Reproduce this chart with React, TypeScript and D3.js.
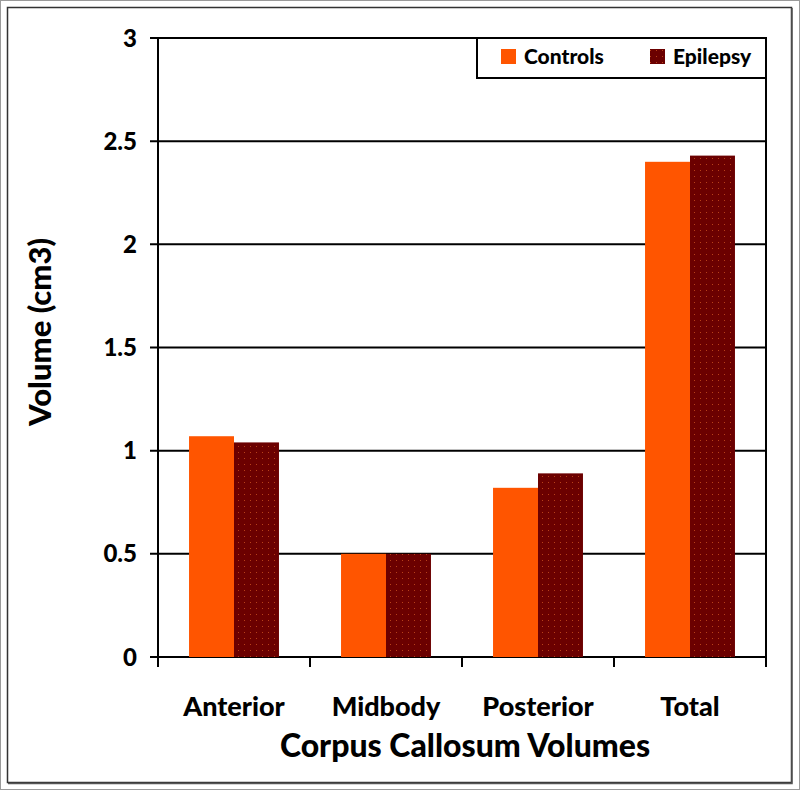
import React, { useEffect, useRef } from "react";
import * as d3 from "d3";

const categories = ["Anterior", "Midbody", "Posterior", "Total"];
const seriesNames = ["Controls", "Epilepsy"];
const controls = [1.07, 0.5, 0.82, 2.4];
const epilepsy = [1.04, 0.5, 0.89, 2.43];
const yTicks = [0, 0.5, 1, 1.5, 2, 2.5, 3];

const font = "Lato, 'Open Sans', sans-serif";

const App = () => {
  const chart = useRef<SVGSVGElement>(null);

  useEffect(() => {
    const width = 800;
    const height = 790;
    const margin = { top: 38, right: 34, bottom: 133, left: 158 };

    const svg = d3.select(chart.current)
      .attr("width", width)
      .attr("height", height);
    svg.selectAll("*").remove();

    // dotted fill for the epilepsy bars
    const defs = svg.append("defs");
    const pat = defs.append("pattern")
      .attr("id", "dots")
      .attr("width", 6)
      .attr("height", 6)
      .attr("patternUnits", "userSpaceOnUse");
    pat.append("rect").attr("width", 6).attr("height", 6).attr("fill", "#6b0000");
    pat.append("rect").attr("x", 2).attr("y", 2).attr("width", 1).attr("height", 1).attr("fill", "#b8401a");

    // frame
    svg.append("rect").attr("x", 0.5).attr("y", 0.5).attr("width", width - 1).attr("height", height - 1)
      .attr("fill", "white").attr("stroke", "#9a9a9a");
    svg.append("rect").attr("x", 7.5).attr("y", 7.5).attr("width", 784).attr("height", 775)
      .attr("fill", "none").attr("stroke", "#333").attr("stroke-width", 1.5);
    svg.append("path").attr("d", "M792,8 V783.5 H8").attr("fill", "none").attr("stroke", "#555").attr("stroke-width", 1.5);

    const x0 = d3.scaleBand()
      .domain(categories)
      .range([margin.left, width - margin.right])
      .paddingInner(0)
      .paddingOuter(0);

    const x1 = d3.scaleBand()
      .domain(seriesNames)
      .range([0, x0.bandwidth()])
      .paddingOuter(0.69)
      .paddingInner(0);

    const y = d3.scaleLinear()
      .domain([0, 3])
      .range([height - margin.bottom, margin.top]);

    // gridlines
    svg.append("g")
      .selectAll("line")
      .data(yTicks)
      .join("line")
        .attr("x1", margin.left - 8)
        .attr("x2", width - margin.right)
        .attr("y1", d => y(d))
        .attr("y2", d => y(d))
        .attr("stroke", "black")
        .attr("stroke-width", 2);

    // bars
    const rows = categories.map((c, i) => ({ c, values: [controls[i], epilepsy[i]] }));
    svg.append("g")
      .selectAll("g")
      .data(rows)
      .join("g")
        .attr("transform", d => "translate(" + x0(d.c) + ",0)")
      .selectAll("rect")
      .data(d => d.values.map((v, j) => ({ name: seriesNames[j], v })))
      .join("rect")
        .attr("x", d => x1(d.name) as number)
        .attr("y", d => y(d.v))
        .attr("width", x1.bandwidth())
        .attr("height", d => y(0) - y(d.v))
        .attr("fill", d => d.name === "Controls" ? "#ff5500" : "url(#dots)");

    // y axis
    svg.append("line")
      .attr("x1", margin.left).attr("x2", margin.left)
      .attr("y1", y(3) - 1).attr("y2", y(0) + 1)
      .attr("stroke", "black").attr("stroke-width", 2);
    svg.append("g")
      .selectAll("text")
      .data(yTicks)
      .join("text")
        .attr("x", margin.left - 21)
        .attr("y", d => y(d))
        .attr("dy", "0.36em")
        .attr("text-anchor", "end")
        .attr("font-family", font)
        .attr("font-weight", 900)
        .attr("font-size", 24)
        .text(d => String(d));

    // x axis ticks
    const edges = categories.map(c => x0(c) as number).concat([width - margin.right]);
    svg.append("g")
      .selectAll("line")
      .data(edges)
      .join("line")
        .attr("x1", d => d).attr("x2", d => d)
        .attr("y1", y(0)).attr("y2", y(0) + 10)
        .attr("stroke", "black").attr("stroke-width", 2);
    svg.append("line")
      .attr("x1", width - margin.right).attr("x2", width - margin.right)
      .attr("y1", margin.top).attr("y2", y(0))
      .attr("stroke", "black").attr("stroke-width", 2);

    svg.append("g")
      .selectAll("text")
      .data(categories)
      .join("text")
        .attr("x", d => (x0(d) as number) + x0.bandwidth() / 2)
        .attr("y", 716)
        .attr("text-anchor", "middle")
        .attr("font-family", font)
        .attr("font-weight", 900)
        .attr("font-size", 27)
        .text(d => d);

    svg.append("text")
      .attr("x", 465)
      .attr("y", 757)
      .attr("text-anchor", "middle")
      .attr("font-family", font)
      .attr("font-weight", 900)
      .attr("font-size", 32)
      .text("Corpus Callosum Volumes");

    svg.append("text")
      .attr("transform", "translate(51," + 332 + ") rotate(-90)")
      .attr("text-anchor", "middle")
      .attr("font-family", font)
      .attr("font-weight", 900)
      .attr("font-size", 31)
      .text("Volume (cm3)");

    // legend
    const lg = svg.append("g");
    lg.append("rect")
      .attr("x", 477).attr("y", 38).attr("width", 289).attr("height", 40)
      .attr("fill", "white").attr("stroke", "black").attr("stroke-width", 2);
    const legendX = [501, 650];
    seriesNames.forEach((name, i) => {
      lg.append("rect")
        .attr("x", legendX[i]).attr("y", 49).attr("width", 15).attr("height", 15)
        .attr("fill", i === 0 ? "#ff5500" : "url(#dots)");
      lg.append("text")
        .attr("x", legendX[i] + 23).attr("y", 64)
        .attr("font-family", font)
        .attr("font-weight", 900)
        .attr("font-size", 21)
        .text(name);
    });
  }, []);

  return (
    <svg ref={chart} style={{ position: "absolute", left: 0, top: 0, display: "block" }} />
  );
};

export default App;
